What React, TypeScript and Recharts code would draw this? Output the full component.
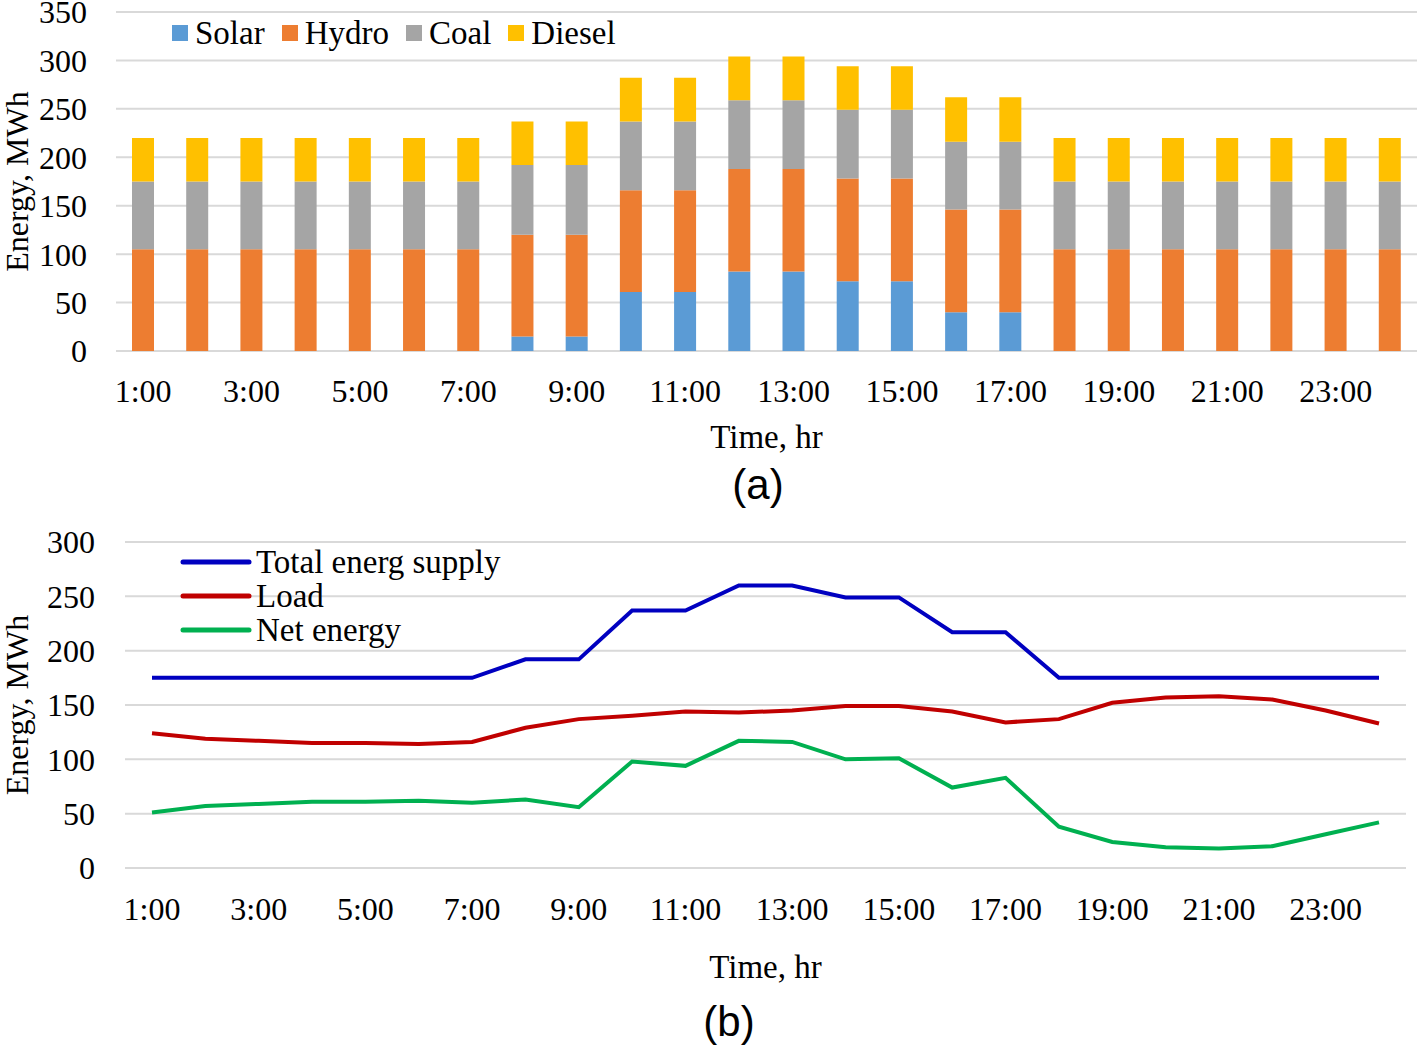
import React from 'react'
import { BarChart, Bar, LineChart, Line, XAxis, YAxis, CartesianGrid, Legend } from 'recharts'

const hours = [
  '1:00', '2:00', '3:00', '4:00', '5:00', '6:00', '7:00', '8:00', '9:00', '10:00', '11:00', '12:00',
  '13:00', '14:00', '15:00', '16:00', '17:00', '18:00', '19:00', '20:00', '21:00', '22:00', '23:00', '24:00'
]

// (a) generation mix, MWh
const solar = [0, 0, 0, 0, 0, 0, 0, 15, 15, 61, 61, 82, 82, 72, 72, 40, 40, 0, 0, 0, 0, 0, 0, 0]
const hydro = [105, 105, 105, 105, 105, 105, 105, 105, 105, 105, 105, 106, 106, 106, 106, 106, 106, 105, 105, 105, 105, 105, 105, 105]
const coal = [70, 70, 70, 70, 70, 70, 70, 72, 72, 71, 71, 71, 71, 71, 71, 70, 70, 70, 70, 70, 70, 70, 70, 70]
const diesel = [45, 45, 45, 45, 45, 45, 45, 45, 45, 45, 45, 45, 45, 45, 45, 46, 46, 45, 45, 45, 45, 45, 45, 45]

// (b) supply vs load, MWh
const totalSupply = [175, 175, 175, 175, 175, 175, 175, 192, 192, 237, 237, 260, 260, 249, 249, 217, 217, 175, 175, 175, 175, 175, 175, 175]
const load = [124, 119, 117, 115, 115, 114, 116, 129, 137, 140, 144, 143, 145, 149, 149, 144, 134, 137, 152, 157, 158, 155, 145, 133]
const netEnergy = [51, 57, 59, 61, 61, 62, 60, 63, 56, 98, 94, 117, 116, 100, 101, 74, 83, 38, 24, 19, 18, 20, 31, 42]

const barTicks = [0, 50, 100, 150, 200, 250, 300, 350]
const lineTicks = [0, 50, 100, 150, 200, 250, 300]

const barOrder = ['Solar', 'Hydro', 'Coal', 'Diesel']
const lineOrder = ['Total energ supply', 'Load', 'Net energy']

const serif = '"Liberation Serif", "Times New Roman", serif'
const tickStyle = { fontSize: 32, fill: '#000', fontFamily: serif }

// keep legend entries in series order
const inOrder = (payload: any[] = [], order: string[]) =>
  payload.slice().sort((a, b) => order.indexOf(a.value) - order.indexOf(b.value))

function SwatchLegend({ payload }: any) {
  return (
    <div style={{ display: 'flex', fontFamily: serif, fontSize: 33, color: '#000', lineHeight: '36px' }}>
      {inOrder(payload, barOrder).map((p: any) => (
        <span key={p.value} style={{ display: 'flex', alignItems: 'center', marginRight: 17 }}>
          <span style={{ width: 16, height: 16, background: p.color, marginRight: 7, display: 'inline-block' }} />
          {p.value}
        </span>
      ))}
    </div>
  )
}

function LineLegend({ payload }: any) {
  return (
    <div style={{ fontFamily: serif, fontSize: 33, color: '#000', lineHeight: '34px' }}>
      {inOrder(payload, lineOrder).map((p: any) => (
        <div key={p.value} style={{ display: 'flex', alignItems: 'center' }}>
          <svg width={72} height={10} style={{ marginRight: 4 }}>
            <line x1={3} y1={5} x2={69} y2={5} stroke={p.color} strokeWidth={5} strokeLinecap="round" />
          </svg>
          <span>{p.value}</span>
        </div>
      ))}
    </div>
  )
}

export default function App() {
  const barData = hours.map((h, i) => ({
    hour: h,
    solar: solar[i],
    hydro: hydro[i],
    coal: coal[i],
    diesel: diesel[i]
  }))

  const lineData = hours.map((h, i) => ({
    hour: h,
    total: totalSupply[i],
    load: load[i],
    net: netEnergy[i]
  }))

  return (
    <div style={{ position: 'absolute', left: 0, top: 0, width: 1418, height: 1047, background: '#fff' }}>
      <div style={{ position: 'absolute', left: 0, top: 0 }}>
        <BarChart width={1418} height={460} data={barData} margin={{ top: 12, right: 1, left: 0, bottom: 0 }}>
          <CartesianGrid vertical={false} stroke="#d9d9d9" strokeWidth={2} />
          <XAxis
            dataKey="hour"
            interval={1}
            height={109}
            axisLine={false}
            tickLine={false}
            tickMargin={22}
            tick={tickStyle}
            label={{ value: 'Time, hr', position: 'insideBottom', offset: 12, style: { fontSize: 33, fill: '#000', fontFamily: serif } }}
          />
          <YAxis
            width={116}
            domain={[0, 350]}
            ticks={barTicks}
            interval={0}
            axisLine={false}
            tickLine={false}
            tickMargin={23}
            tick={tickStyle}
            label={{ value: 'Energy, MWh', angle: -90, position: 'insideLeft', offset: 17, style: { textAnchor: 'middle', fontSize: 32, fill: '#000', fontFamily: serif } }}
          />
          <Legend
            layout="horizontal"
            verticalAlign="middle"
            align="center"
            itemSorter={null as any}
            wrapperStyle={{ top: 15, left: 172, width: 'auto' }}
            content={<SwatchLegend />}
          />
          <Bar dataKey="solar" name="Solar" stackId="a" fill="#5B9BD5" barSize={22} isAnimationActive={false} />
          <Bar dataKey="hydro" name="Hydro" stackId="a" fill="#ED7D31" barSize={22} isAnimationActive={false} />
          <Bar dataKey="coal" name="Coal" stackId="a" fill="#A5A5A5" barSize={22} isAnimationActive={false} />
          <Bar dataKey="diesel" name="Diesel" stackId="a" fill="#FFC000" barSize={22} isAnimationActive={false} />
        </BarChart>
      </div>
      <div style={{ position: 'absolute', left: 708, width: 100, top: 462, textAlign: 'center', fontFamily: '"Liberation Sans", Arial, sans-serif', fontSize: 42, lineHeight: '46px' }}>
        (a)
      </div>

      <div style={{ position: 'absolute', left: 0, top: 520 }}>
        <LineChart width={1418} height={480} data={lineData} margin={{ top: 22, right: 12, left: 0, bottom: 0 }}>
          <CartesianGrid vertical={false} stroke="#d9d9d9" strokeWidth={2} />
          <XAxis
            dataKey="hour"
            interval={1}
            height={132}
            padding={{ left: 27, right: 27 }}
            axisLine={false}
            tickLine={false}
            tickMargin={23}
            tick={tickStyle}
            label={{ value: 'Time, hr', position: 'insideBottom', offset: 22, style: { fontSize: 33, fill: '#000', fontFamily: serif } }}
          />
          <YAxis
            width={125}
            domain={[0, 300]}
            ticks={lineTicks}
            interval={0}
            axisLine={false}
            tickLine={false}
            tickMargin={24}
            tick={tickStyle}
            label={{ value: 'Energy, MWh', angle: -90, position: 'insideLeft', offset: 17, style: { textAnchor: 'middle', fontSize: 32, fill: '#000', fontFamily: serif } }}
          />
          <Legend
            layout="vertical"
            verticalAlign="middle"
            align="center"
            itemSorter={null as any}
            wrapperStyle={{ top: 25, left: 180, width: 'auto' }}
            content={<LineLegend />}
          />
          <Line type="linear" dataKey="total" name="Total energ supply" stroke="#0000C0" strokeWidth={4} dot={false} isAnimationActive={false} />
          <Line type="linear" dataKey="load" name="Load" stroke="#C00000" strokeWidth={4} dot={false} isAnimationActive={false} />
          <Line type="linear" dataKey="net" name="Net energy" stroke="#00B050" strokeWidth={4} dot={false} isAnimationActive={false} />
        </LineChart>
      </div>
      <div style={{ position: 'absolute', left: 679, width: 100, top: 999, textAlign: 'center', fontFamily: '"Liberation Sans", Arial, sans-serif', fontSize: 42, lineHeight: '46px' }}>
        (b)
      </div>
    </div>
  )
}
